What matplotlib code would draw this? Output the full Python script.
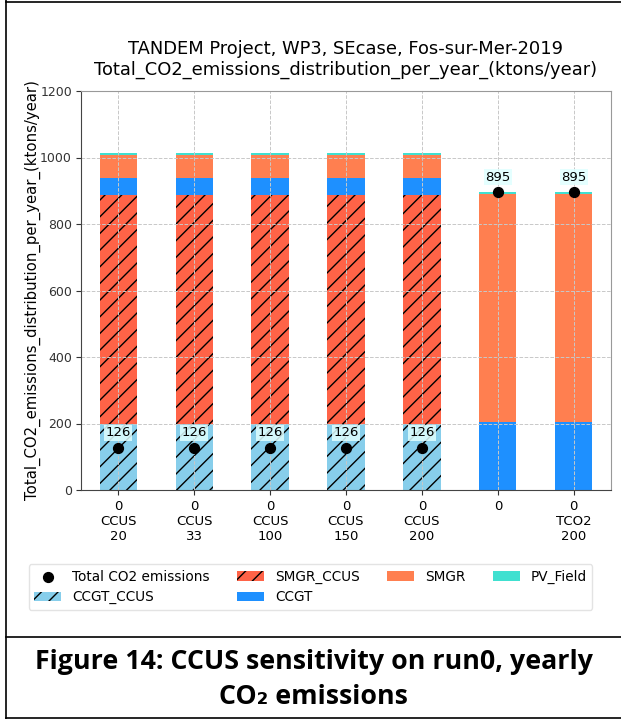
import numpy as np
import matplotlib.pyplot as plt

# === Data (ktons/year) ===
cases = ["0\nCCUS\n20", "0\nCCUS\n33", "0\nCCUS\n100", "0\nCCUS\n150",
         "0\nCCUS\n200", "0", "0\nTCO2\n200"]
ccgt_ccus = [200, 200, 200, 200, 200, 0, 0]
smgr_ccus = [688, 688, 688, 688, 688, 0, 0]
ccgt = [50, 50, 50, 50, 50, 206, 206]
smgr = [70, 70, 70, 70, 70, 684, 684]
pv_field = [5, 5, 5, 5, 5, 5, 5]
total_co2 = [126, 126, 126, 126, 126, 895, 895]

layers = [
    ("CCGT_CCUS", ccgt_ccus, "skyblue", "//"),
    ("SMGR_CCUS", smgr_ccus, "tomato", "//"),
    ("CCGT", ccgt, "dodgerblue", None),
    ("SMGR", smgr, "coral", None),
    ("PV_Field", pv_field, "turquoise", None),
]

# === Figure ===
fig = plt.figure(figsize=(6.21, 7.19), dpi=100)
ax = fig.add_axes([81/621, 1 - 490/719, 530/621, 399/719])

x = np.arange(len(cases))
bottom = np.zeros(len(cases))
for name, vals, col, hatch in layers:
    vals = np.array(vals, dtype=float)
    ax.bar(x, vals, 0.49, bottom=bottom, color=col, hatch=hatch,
           edgecolor="black" if hatch else col, linewidth=0, label=name)
    bottom += vals

ax.scatter(x, total_co2, s=50, color="black", zorder=4,
           label="Total CO2 emissions")
for xi, v in zip(x, total_co2):
    ax.annotate(str(v), (xi, v), xytext=(0, 11), textcoords="offset points",
                ha="center", va="center", fontsize=9.5,
                bbox=dict(boxstyle="square,pad=0.1", fc="#e0ffff",
                          ec="none", alpha=0.85))

ax.set_xlim(-0.49, 6.49)
ax.set_ylim(0, 1200)
ax.set_xticks(x)
ax.set_xticklabels(cases, fontsize=9.5, linespacing=1.2)
ax.tick_params(axis="y", labelsize=9, colors="#333333", pad=3)
ax.tick_params(axis="x", colors="#333333", labelcolor="black")
ax.grid(True, linestyle="--", color="#c8c8c8", linewidth=0.7)
for s in ["left", "bottom"]:
    ax.spines[s].set_color("#444444")
for s in ["top", "right"]:
    ax.spines[s].set_color("#999999")

ax.set_ylabel("Total_CO2_emissions_distribution_per_year_(ktons/year)",
              fontsize=10.7)
ax.yaxis.set_label_coords(-0.0755, 0.5)
ax.set_title("TANDEM Project, WP3, SEcase, Fos-sur-Mer-2019\n"
             "Total_CO2_emissions_distribution_per_year_(ktons/year)",
             fontsize=12.9, pad=12)

# legend: dot first, then the stacked layers
h, l = ax.get_legend_handles_labels()
fig.legend(h, l, ncol=4, loc="center", bbox_to_anchor=(0.5, 1 - 587/719),
           fontsize=9.8, frameon=True, edgecolor="#dddddd")

# frame and caption
fig.add_artist(plt.Line2D([6/621, 6/621], [0, 1], color="black", lw=1.2))
fig.add_artist(plt.Line2D([6/621, 1], [1 - 2/719, 1 - 2/719], color="black", lw=1.2))
fig.add_artist(plt.Line2D([6/621, 1], [1 - 637/719, 1 - 637/719], color="black", lw=1.2))
fig.add_artist(plt.Line2D([6/621, 1], [1 - 718/719, 1 - 718/719], color="black", lw=1.2))
fig.text(0.505, 1 - 662/719, "Figure 14: CCUS sensitivity on run0, yearly",
         ha="center", va="center", fontsize=19.3, fontweight="bold",
         family=["Open Sans", "DejaVu Sans"])
fig.text(0.505, 1 - 697/719, "CO\u2082 emissions",
         ha="center", va="center", fontsize=19.3, fontweight="bold",
         family=["Open Sans", "DejaVu Sans"])

fig.savefig("out.png", dpi=100)
